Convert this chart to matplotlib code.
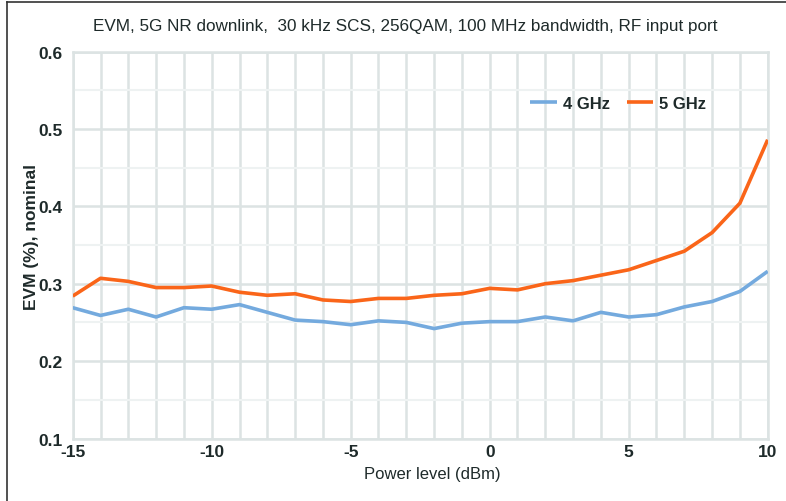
import matplotlib
matplotlib.use("Agg")
import matplotlib.pyplot as plt
from matplotlib.lines import Line2D
from matplotlib.ticker import MultipleLocator

power_dbm = list(range(-15, 11))
evm_4ghz = [0.269, 0.259, 0.267, 0.257, 0.269, 0.267, 0.273, 0.263, 0.253, 0.251,
            0.247, 0.252, 0.250, 0.242, 0.249, 0.251, 0.251, 0.257, 0.252, 0.263,
            0.257, 0.260, 0.270, 0.277, 0.290, 0.316]
evm_5ghz = [0.284, 0.307, 0.303, 0.295, 0.295, 0.297, 0.289, 0.285, 0.287, 0.279,
            0.277, 0.281, 0.281, 0.285, 0.287, 0.294, 0.292, 0.300, 0.304, 0.311,
            0.318, 0.330, 0.342, 0.366, 0.404, 0.486]
series_labels = ["4 GHz", "5 GHz"]
x_ticks = [-15, -10, -5, 0, 5, 10]
y_ticks = [0.1, 0.2, 0.3, 0.4, 0.5, 0.6]
title = "EVM, 5G NR downlink,  30 kHz SCS, 256QAM, 100 MHz bandwidth, RF input port"

plt.rcParams['font.family'] = ['Liberation Sans', 'DejaVu Sans']
txt = '#1e2a2a'
grid_c = '#dce3e3'
minor_c = '#eef2f2'

fig = plt.figure(figsize=(7.86, 5.02), dpi=100)
ax = fig.add_axes([0.0925, 0.1245, 0.9767 - 0.0925, 0.8954 - 0.1245])

ax.plot(power_dbm, evm_4ghz, color='#74aade', lw=2.6, label=series_labels[0], zorder=3, solid_capstyle='butt')
ax.plot(power_dbm, evm_5ghz, color='#fa6519', lw=2.6, label=series_labels[1], zorder=3, solid_capstyle='butt')

ax.set_xlim(-15, 10)
ax.set_ylim(0.1, 0.6)
ax.set_xticks(x_ticks)
ax.set_xticklabels([str(v) for v in x_ticks])
ax.set_yticks(y_ticks)
ax.set_yticklabels([f"{v:.1f}" for v in y_ticks])
ax.xaxis.set_minor_locator(MultipleLocator(1))
ax.yaxis.set_minor_locator(MultipleLocator(0.05))

ax.grid(True, axis='x', which='both', color=grid_c, lw=1.8, zorder=0)
ax.grid(True, axis='y', which='major', color=grid_c, lw=1.8, zorder=0)
ax.grid(True, axis='y', which='minor', color=minor_c, lw=1.5, zorder=0)
for s in ax.spines.values():
    s.set_color(grid_c)
    s.set_linewidth(1.8)
ax.tick_params(which='both', length=0)
ax.tick_params(axis='y', pad=7, labelsize=12.5, labelcolor=txt)
ax.tick_params(axis='x', pad=4, labelsize=12.5, labelcolor=txt)
for lab in ax.get_xticklabels() + ax.get_yticklabels():
    lab.set_fontweight('bold')

ax.set_xlabel("Power level (dBm)", fontsize=12, color=txt)
ax.xaxis.set_label_coords(0.518, -0.072)
ax.set_ylabel("EVM (%), nominal", fontsize=12.5, color=txt, fontweight='bold')
ax.yaxis.set_label_coords(-0.048, 0.523)
fig.text(0.515, 0.948, title, ha='center', va='center', fontsize=12.3, color=txt)

leg = ax.legend(loc='upper left', bbox_to_anchor=(0.637, 0.925), frameon=False, ncol=2,
                fontsize=12, handlelength=1.6, handletextpad=0.35, columnspacing=1.0,
                labelcolor=txt)
for t in leg.get_texts():
    t.set_fontweight('bold')

fig.add_artist(Line2D([7/786, 7/786], [0, 1 - 3/502], transform=fig.transFigure, color='#333333', lw=1.2))
fig.add_artist(Line2D([7/786, 1], [1 - 3/502, 1 - 3/502], transform=fig.transFigure, color='#333333', lw=1.2))

fig.savefig("out.png", dpi=100)
